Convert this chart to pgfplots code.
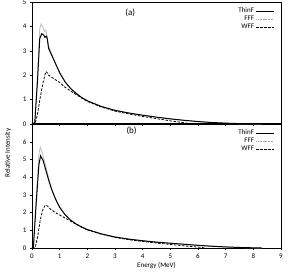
\documentclass[border=0pt]{standalone}
\usepackage{pgfplots}
\pgfplotsset{compat=1.18}
\usepackage{fontspec}
\setmainfont{Carlito}
\begin{document}
\begin{tikzpicture}
\path[use as bounding box] (0pt,0pt) rectangle (289pt,278pt);
\pgfplotsset{
  every axis/.append style={
    scale only axis, width=249pt, xmin=0, xmax=9, ymin=0,
    axis line style={line width=0.6pt},
    tick style={black, line width=0.4pt},
    tick align=outside, major tick length=2pt,
    ticklabel style={font=\fontsize{7}{8}\selectfont},
    /pgf/number format/assume math mode=true,
    xtick={0,...,9},
    legend style={draw=none, fill=none, font=\fontsize{7}{8}\selectfont, at={(0.985,0.985)}, anchor=north east, row sep=-2pt,
      legend cell align=right},
    legend plot pos=right,
  },
  thinf/.style={black, line width=1pt},
  fff/.style={gray!50, line width=0.8pt},
  fffleg/.style={gray!70, line width=0.6pt, densely dotted},
  wff/.style={black, line width=0.8pt, dash pattern=on 2.5pt off 1.5pt},
}
% top panel
\begin{axis}[at={(32pt,154pt)}, anchor=south west, height=122pt, ymax=5, ytick={0,...,5},
  xticklabels={}, axis x line*=bottom, axis y line*=left, clip=false]
\addlegendimage{thinf}
\addlegendimage{fffleg}
\addlegendimage{wff}
\addplot[fff, forget plot] coordinates {(0,0)(0.1,0.05)(0.2,2.0)(0.28,3.9)(0.33,4.1)(0.4,3.95)(0.45,3.8)(0.5,3.85)(0.55,3.6)(0.6,3.2)(0.7,2.9)(0.8,2.62)(0.9,2.36)(1.0,2.1)(1.2,1.72)(1.4,1.45)(1.6,1.25)(1.8,1.08)(2.0,0.95)(2.5,0.72)(3.0,0.56)(3.5,0.45)(4.0,0.36)(4.5,0.28)(5.0,0.21)(5.5,0.15)(6.0,0.1)(6.5,0.06)(7.0,0.035)(7.5,0.015)(8.0,0.005)(8.3,0)};
\addplot[thinf, forget plot] coordinates {(0,0)(0.1,0.05)(0.2,1.8)(0.28,3.5)(0.35,3.7)(0.42,3.65)(0.47,3.55)(0.52,3.6)(0.55,3.5)(0.6,3.1)(0.7,2.85)(0.8,2.6)(0.9,2.35)(1.0,2.1)(1.2,1.72)(1.4,1.45)(1.6,1.25)(1.8,1.08)(2.0,0.95)(2.5,0.72)(3.0,0.56)(3.5,0.45)(4.0,0.36)(4.5,0.28)(5.0,0.21)(5.5,0.15)(6.0,0.1)(6.5,0.06)(7.0,0.035)(7.5,0.015)(8.0,0.005)(8.3,0)};
\addplot[wff, forget plot] coordinates {(0,0)(0.12,0.05)(0.2,0.4)(0.3,1.1)(0.4,1.7)(0.5,2.15)(0.55,2.1)(0.6,2.0)(0.8,1.85)(1.0,1.7)(1.2,1.5)(1.4,1.35)(1.6,1.2)(1.8,1.06)(2.0,0.93)(2.5,0.7)(3.0,0.53)(3.5,0.41)(4.0,0.31)(4.5,0.22)(5.0,0.13)(5.5,0.05)(5.8,0)};
\legend{ThinF,FFF,WFF}
\draw[black, line width=0.6pt] (rel axis cs:0,1) -- (rel axis cs:1,1) -- (rel axis cs:1,0);
\node[font=\fontsize{9}{10}\selectfont] at (axis cs:3.55,4.55) {(a)};
\draw[black, line width=1pt] (rel axis cs:0,0) -- (rel axis cs:1,0);
\end{axis}
% bottom panel
\begin{axis}[at={(32pt,30pt)}, anchor=south west, height=124pt, ymax=7, ytick={0,...,6},
  axis x line*=bottom, axis y line*=left, clip=false,
  xlabel={Energy (MeV)}, xlabel style={font=\fontsize{7}{8}\selectfont, yshift=3pt}]
\addlegendimage{thinf}
\addlegendimage{fffleg}
\addlegendimage{wff}
\addplot[fff, forget plot] coordinates {(0,0)(0.05,0.05)(0.15,2.8)(0.25,5.3)(0.3,5.7)(0.38,5.35)(0.5,4.6)(0.6,3.95)(0.7,3.4)(0.8,2.98)(0.9,2.62)(1.0,2.3)(1.2,1.87)(1.4,1.57)(1.6,1.35)(1.8,1.18)(2.0,1.04)(2.5,0.8)(3.0,0.62)(3.5,0.5)(4.0,0.41)(4.5,0.33)(5.0,0.27)(5.5,0.21)(6.0,0.15)(6.5,0.1)(7.0,0.06)(7.5,0.03)(8.0,0.01)(8.3,0)};
\addplot[thinf, forget plot] coordinates {(0,0)(0.05,0.05)(0.15,2.5)(0.25,4.7)(0.31,5.2)(0.4,4.95)(0.5,4.4)(0.6,3.85)(0.7,3.35)(0.8,2.95)(0.9,2.6)(1.0,2.3)(1.2,1.87)(1.4,1.57)(1.6,1.35)(1.8,1.18)(2.0,1.04)(2.5,0.8)(3.0,0.62)(3.5,0.5)(4.0,0.41)(4.5,0.33)(5.0,0.27)(5.5,0.21)(6.0,0.15)(6.5,0.1)(7.0,0.06)(7.5,0.03)(8.0,0.01)(8.3,0)};
\addplot[wff, forget plot] coordinates {(0,0)(0.12,0.05)(0.2,0.6)(0.3,1.6)(0.4,2.2)(0.48,2.42)(0.55,2.38)(0.7,2.15)(0.9,1.95)(1.1,1.78)(1.3,1.6)(1.5,1.42)(1.7,1.25)(2.0,1.02)(2.5,0.78)(3.0,0.6)(3.5,0.47)(4.0,0.37)(4.5,0.28)(5.0,0.2)(5.5,0.12)(6.0,0.05)(6.3,0)};
\legend{ThinF,FFF,WFF}
\draw[black, line width=0.6pt] (rel axis cs:1,1) -- (rel axis cs:1,0);
\node[font=\fontsize{9}{10}\selectfont] at (axis cs:3.6,6.6) {(b)};
\end{axis}
\node[rotate=90, font=\fontsize{7}{8}\selectfont] at (8pt,125pt) {Relative Intensity};
\end{tikzpicture}
\end{document}
